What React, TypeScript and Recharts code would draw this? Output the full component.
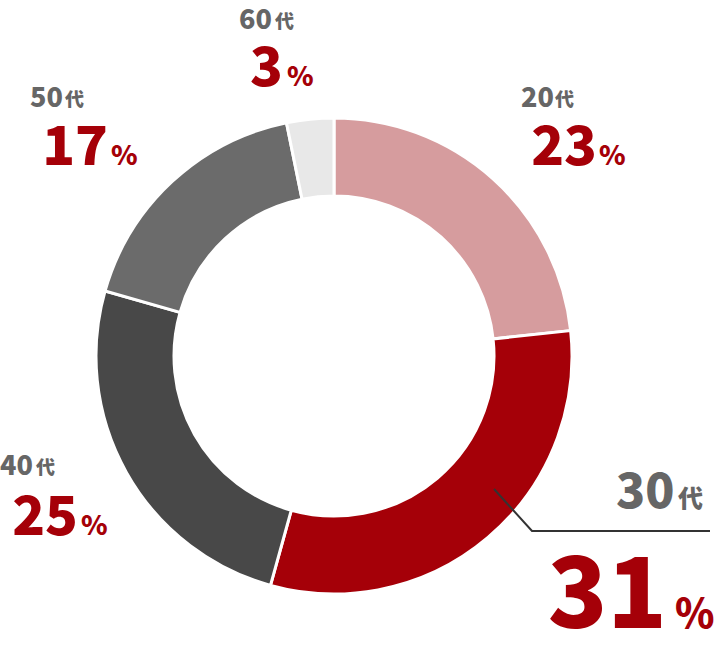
import React from "react";
import { PieChart, Pie, Cell } from "recharts";

const categories = ["20代", "30代", "40代", "50代", "60代"];
const shares = [23.3, 31.0, 25.1, 17.4, 3.2];
const shownPercents = ["23", "31", "25", "17", "3"];
const colors = ["#d69c9e", "#a50008", "#484848", "#6b6b6b", "#e8e8e8"];

const data = categories.map((name, i) => ({ name, value: shares[i], pct: shownPercents[i] }));

const FONT = "'Noto Sans CJK JP', 'Noto Sans', sans-serif";
const GREY = "#666666";
const RED = "#a50008";

type L = {
  sStart: number; sSuf: number; sy: number; sNum: number; sKanji: number;
  bEnd: number; bSuf: number; by: number; bNum: number; bPct: number;
};

// label placement relative to the pie centre
const layout: Record<number, L> = {
  0: { sStart: 187, sSuf: 221, sy: -249, sNum: 27, sKanji: 19, bEnd: 263, bSuf: 265, by: -191, bNum: 54, bPct: 27 },
  1: { sStart: 282, sSuf: 344, sy: 152, sNum: 48, sKanji: 25, bEnd: 333, bSuf: 341, by: 272, bNum: 98, bPct: 40 },
  2: { sStart: -334, sSuf: -298, sy: 119, sNum: 27, sKanji: 19, bEnd: -256, bSuf: -253, by: 179, bNum: 54, bPct: 27 },
  3: { sStart: -304, sSuf: -269, sy: -249, sNum: 27, sKanji: 19, bEnd: -226, bSuf: -223, by: -191, bNum: 54, bPct: 27 },
  4: { sStart: -95, sSuf: -59, sy: -327, sNum: 27, sKanji: 19, bEnd: -51, bSuf: -47, by: -270, bNum: 54, bPct: 27 },
};

const renderLabel = (props: any) => {
  const { cx, cy, index } = props;
  const d = data[index];
  const l = layout[index];
  const num = d.name.replace("代", "");
  return (
    <g key={`lbl-${index}`}>
      {index === 1 && (
        <polyline
          points={`${cx + 160},${cy + 133} ${cx + 198},${cy + 175} ${cx + 376},${cy + 175}`}
          fill="none"
          stroke="#333333"
          strokeWidth={2}
        />
      )}
      <text x={cx + l.sStart} y={cy + l.sy} textAnchor="start" fontFamily={FONT} fontWeight={900} fontSize={l.sNum} fill={GREY}>
        {num}
      </text>
      <text x={cx + l.sSuf} y={cy + l.sy} textAnchor="start" fontFamily={FONT} fontWeight={900} fontSize={l.sKanji} fill={GREY}>
        代
      </text>
      <text x={cx + l.bEnd} y={cy + l.by} textAnchor="end" fontFamily={FONT} fontWeight={900} fontSize={l.bNum} fill={RED}>
        {d.pct}
      </text>
      <text x={cx + l.bSuf} y={cy + l.by} textAnchor="start" fontFamily={FONT} fontWeight={900} fontSize={l.bPct} fill={RED}>
        %
      </text>
    </g>
  );
};

export default function App() {
  return (
    <div style={{ position: "absolute", left: 0, top: 0, width: 714, height: 658, background: "#fff" }}>
      <PieChart width={714} height={658} margin={{ top: 0, right: 0, bottom: 0, left: 0 }}>
        <Pie
          data={data}
          dataKey="value"
          nameKey="name"
          cx={334}
          cy={356}
          innerRadius={160}
          outerRadius={238}
          startAngle={90}
          endAngle={-270}
          stroke="#ffffff"
          strokeWidth={3}
          label={renderLabel}
          labelLine={false}
          isAnimationActive={false}
        >
          {data.map((d, i) => (
            <Cell key={d.name} fill={colors[i]} />
          ))}
        </Pie>
      </PieChart>
    </div>
  );
}
